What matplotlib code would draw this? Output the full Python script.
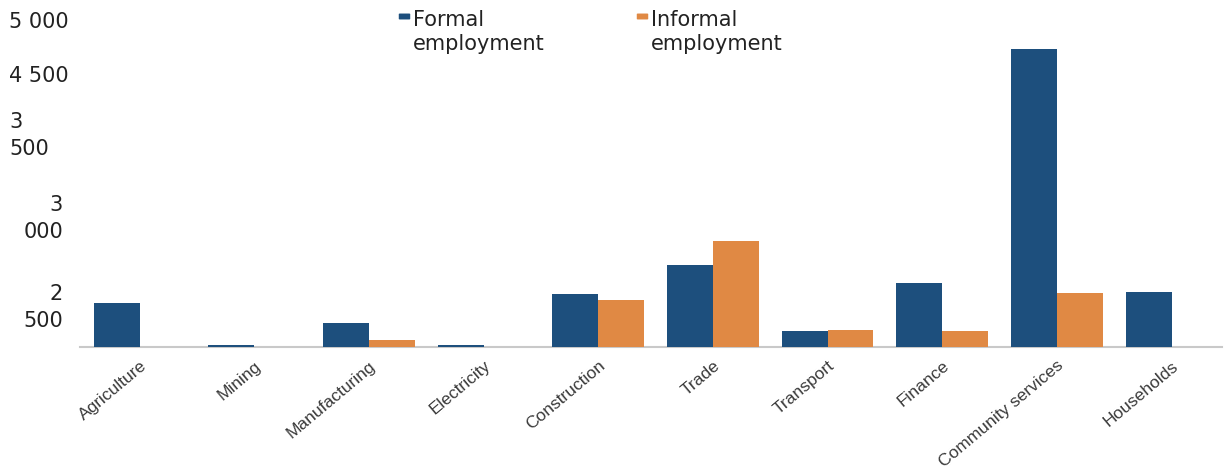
import matplotlib.pyplot as plt
import matplotlib.transforms as mtransforms
from matplotlib.patches import FancyBboxPatch
import numpy as np

# sectors and employment (thousands)
sectors = ["Agriculture", "Mining", "Manufacturing", "Electricity", "Construction",
           "Trade", "Transport", "Finance", "Community services", "Households"]
formal = [680, 30, 370, 30, 815, 1260, 250, 985, 4585, 845]
informal = [0, 0, 110, 0, 725, 1630, 260, 250, 830, 0]

# the y labels in the source are broken/wrapped, keep them as printed
ytick_vals = [5000, 4170, 3250, 1980, 610]
ytick_labels = ["5 000", "4 500", "3\n500", "3\n000", "2\n500"]

c_formal = "#1d4f7d"
c_informal = "#e08944"

fig = plt.figure(figsize=(12.25, 4.68), dpi=100)
ax = fig.add_axes([80 / 1225, 1 - 347 / 468, 1142 / 1225, 325 / 468])

x = np.arange(len(sectors))
w = 0.4
ax.bar(x - w / 2, formal, w, color=c_formal, zorder=3)
ax.bar(x + w / 2, informal, w, color=c_informal, zorder=3)

ax.set_xlim(-0.52, 9.44)
ax.set_ylim(0, 5000)
for s in ["top", "right", "left"]:
    ax.spines[s].set_visible(False)
ax.spines["bottom"].set_color("#c9c9c9")
ax.spines["bottom"].set_linewidth(1.5)
ax.set_yticks([])
ax.set_xticks(x)
ax.set_xticklabels(sectors, rotation=40, ha="right", rotation_mode="anchor",
                   fontsize=12.5, family="Liberation Sans", color="#3a3a3a")
ax.tick_params(axis="x", length=0, pad=8)

# y labels, placed like in the scan
trans = mtransforms.blended_transform_factory(fig.transFigure, ax.transData)
for i, (v, lab) in enumerate(zip(ytick_vals, ytick_labels)):
    if i < 3:
        ax.text(9 / 1225, v, lab, transform=trans, ha="left", va="center",
                fontsize=15, color="#222222", linespacing=1.45, clip_on=False)
    else:
        ax.text(63 / 1225, v, lab, transform=trans, ha="right", va="center",
                multialignment="right", fontsize=15, color="#222222",
                linespacing=1.45, clip_on=False)

# legend drawn by hand, marker sits on the first line
leg = [("Formal\nemployment", c_formal, 400), ("Informal\nemployment", c_informal, 638)]
for lab, col, px in leg:
    fig.patches.append(FancyBboxPatch((px / 1225, 1 - 19 / 468), 9 / 1225, 5 / 468,
                                      boxstyle="round,pad=0.001", transform=fig.transFigure,
                                      facecolor=col, edgecolor="none"))
    fig.text((px + 13) / 1225, 1 - 10 / 468, lab, ha="left", va="top",
             fontsize=15, color="#222222", linespacing=1.25)

fig.savefig("out.png", dpi=100, facecolor="white")
